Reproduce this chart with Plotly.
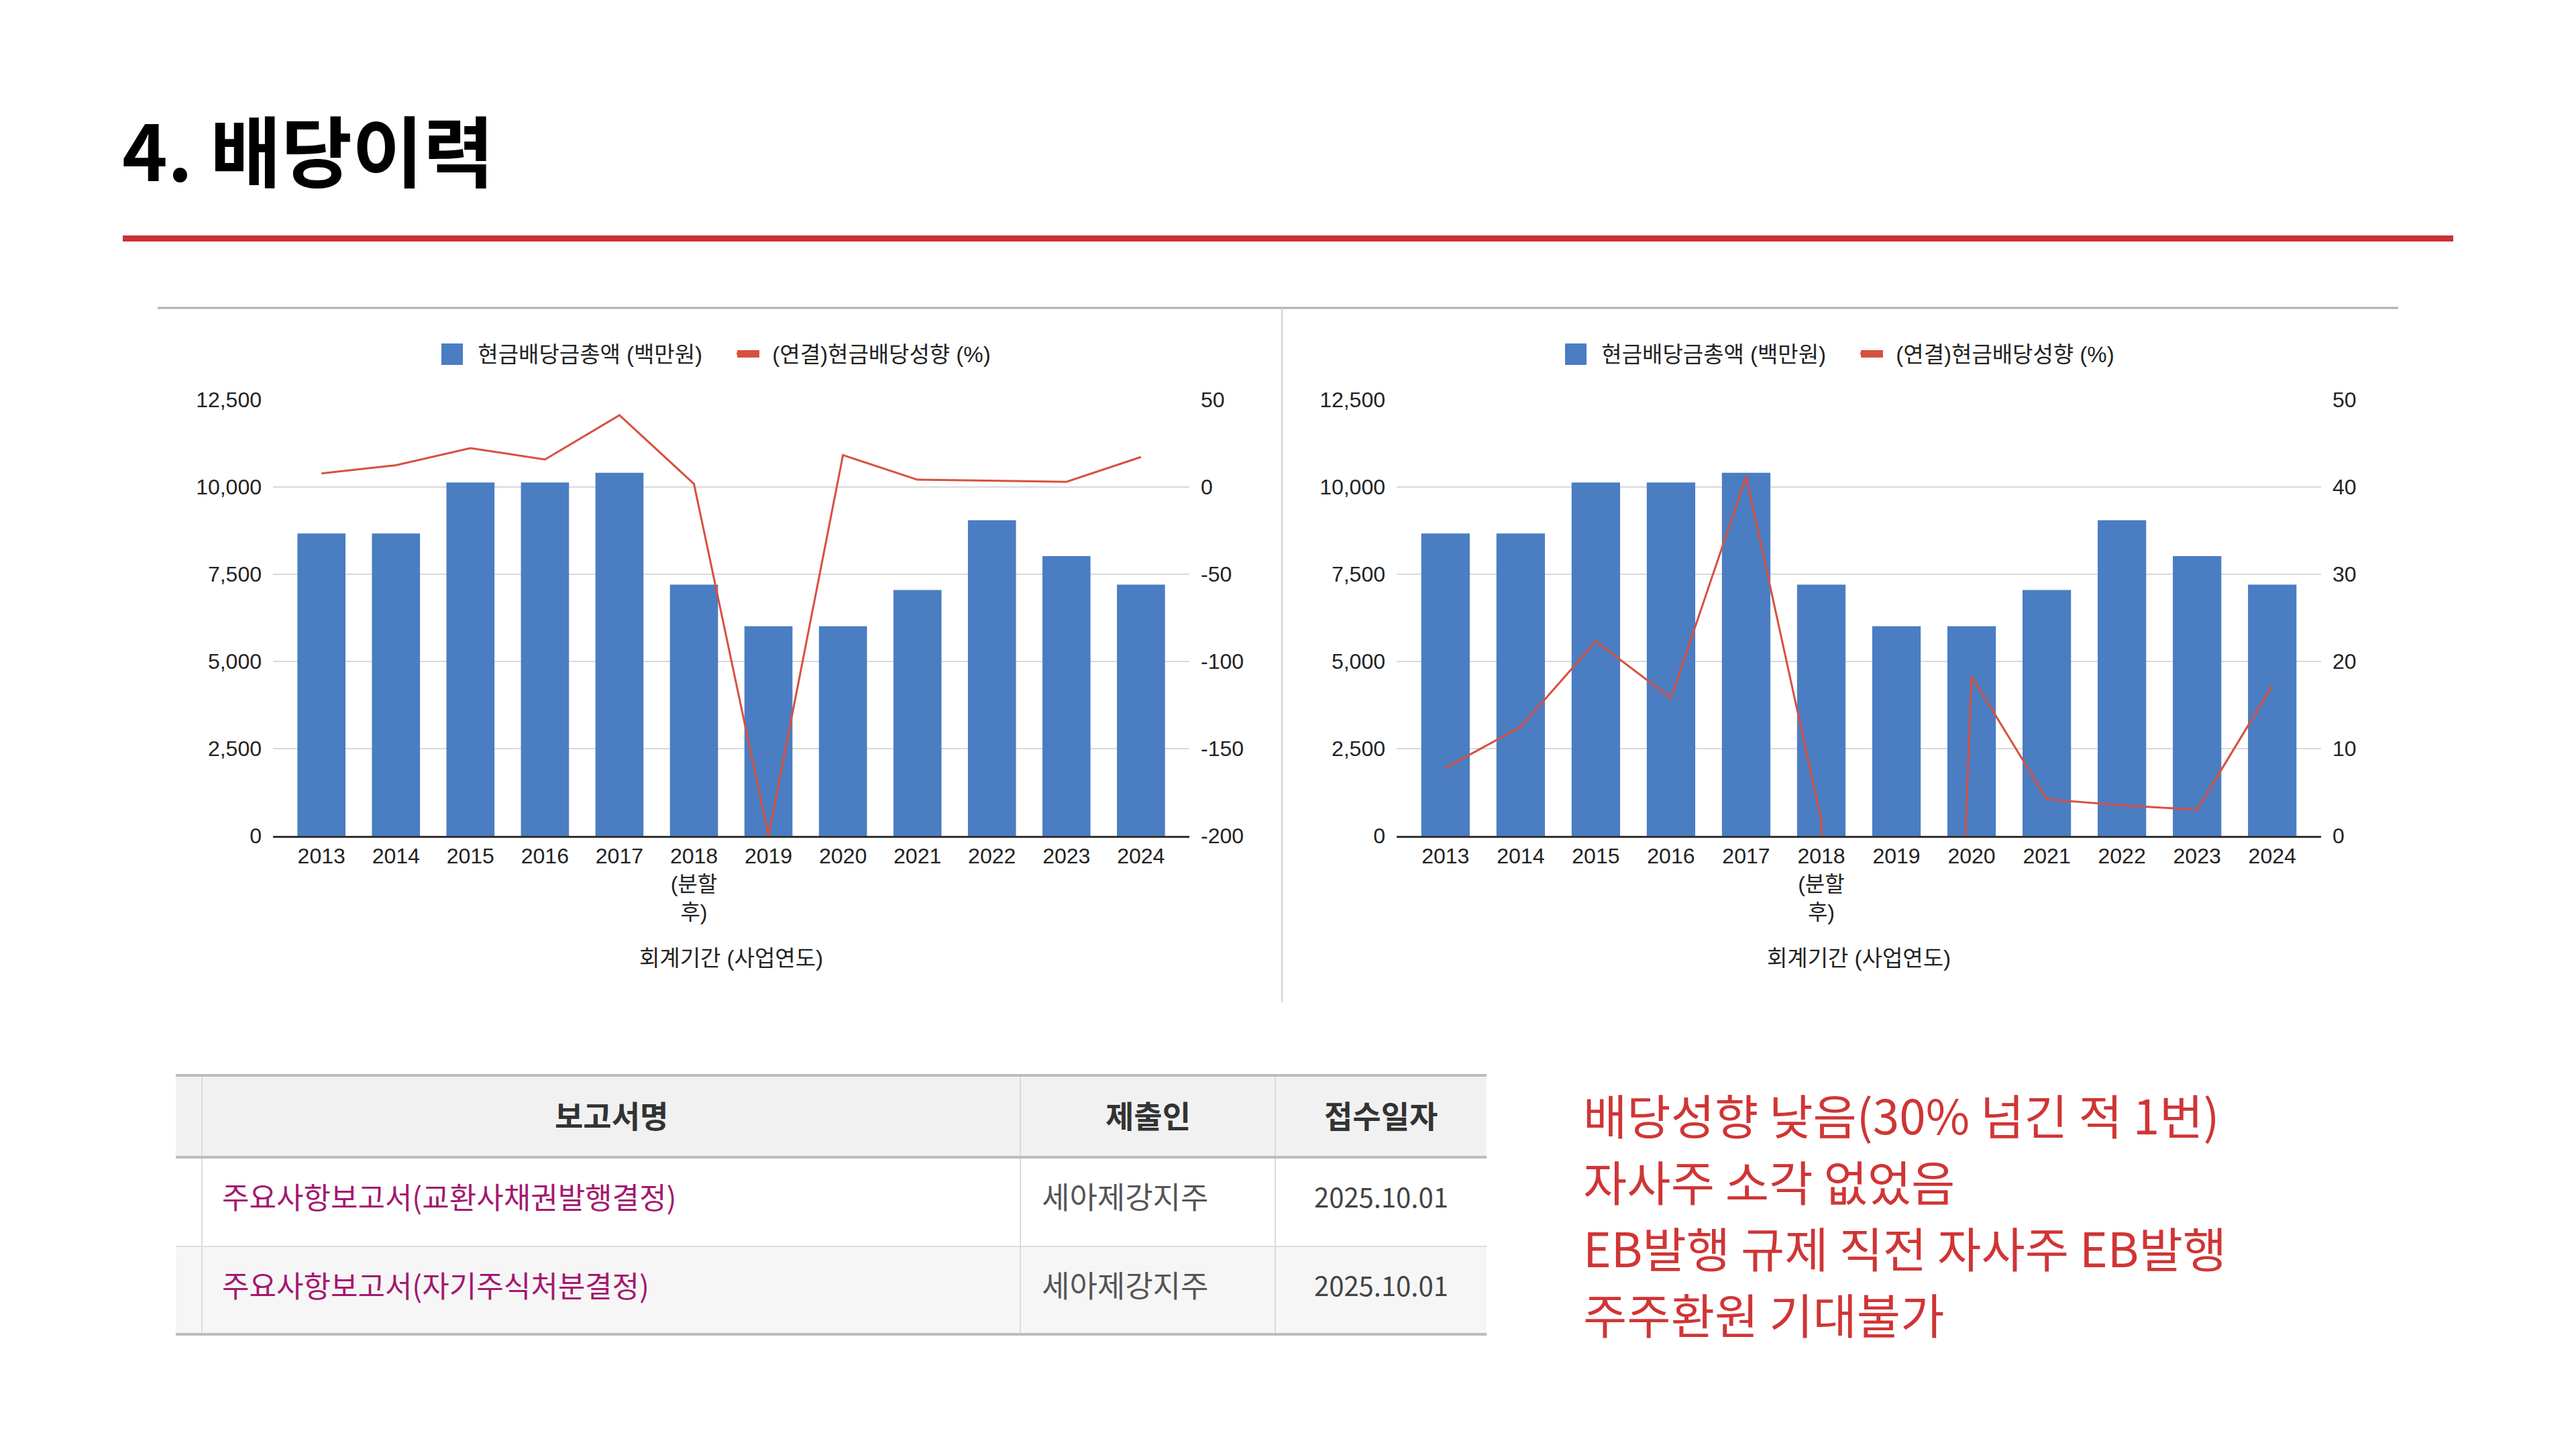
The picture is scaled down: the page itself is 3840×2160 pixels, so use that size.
import plotly.graph_objects as go

# ---------------- data ----------------
years = ["2013", "2014", "2015", "2016", "2017", "2018(분할후)", "2019", "2020", "2021", "2022", "2023", "2024"]
year_labels = ["2013", "2014", "2015", "2016", "2017", "2018<br>(분할<br>후)", "2019", "2020", "2021", "2022", "2023", "2024"]
dividend_total = [8670, 8670, 10130, 10130, 10410, 7200, 6010, 6010, 7050, 9050, 8020, 7200]   # 현금배당금총액 (백만원)
payout_ratio = [7.8, 12.5, 22.3, 15.8, 41.2, 1.8, -200, 18.3, 4.2, 3.5, 3.0, 17.2]            # (연결)현금배당성향 (%)

bar_name = "현금배당금총액 (백만원)"
line_name = "(연결)현금배당성향 (%)"
x_title = "회계기간 (사업연도)"

amount_ticks = [0, 2500, 5000, 7500, 10000, 12500]
ratio_ticks_left = [-200, -150, -100, -50, 0, 50]
ratio_ticks_right = [0, 10, 20, 30, 40, 50]

table_header = ["보고서명", "제출인", "접수일자"]
report_names = ["주요사항보고서(교환사채권발행결정)", "주요사항보고서(자기주식처분결정)"]
submitters = ["세아제강지주", "세아제강지주"]
receipt_dates = ["2025.10.01", "2025.10.01"]

page_title = "4. 배당이력"
notes = ["배당성향 낮음(30% 넘긴 적 1번)", "자사주 소각 없었음", "EB발행 규제 직전 자사주 EB발행", "주주환원 기대불가"]

# ---------------- style ----------------
W, H = 3840, 2160
BLUE = "#4a7dc2"
RED_LINE = "#d7513f"
CHART_FONT = "Arial, 'Liberation Sans', 'Noto Sans CJK KR', sans-serif"
KR_FONT = "'Noto Sans CJK KR', 'Noto Sans', sans-serif"
PAD = "\u00a0\u00a0"


def px(x):
    return x / W


def py(y):
    return 1 - y / H


fig = go.Figure()

bar_marker = dict(color=BLUE, line=dict(width=0, color=BLUE))
# left chart
fig.add_trace(go.Bar(x=years, y=dividend_total, name=PAD + bar_name, marker=bar_marker,
                     xaxis="x", yaxis="y", legend="legend"))
fig.add_trace(go.Scatter(x=years, y=payout_ratio, name=PAD + line_name, mode="lines",
                         line=dict(color=RED_LINE, width=3), xaxis="x", yaxis="y2", legend="legend"))
# right chart
fig.add_trace(go.Bar(x=years, y=dividend_total, name=PAD + bar_name, marker=bar_marker,
                     xaxis="x2", yaxis="y3", legend="legend2"))
fig.add_trace(go.Scatter(x=years, y=payout_ratio, name=PAD + line_name, mode="lines",
                         line=dict(color=RED_LINE, width=3), xaxis="x2", yaxis="y4", legend="legend2"))

tick_font = dict(family=CHART_FONT, size=32, color="#222222")
plot_y = [py(1246), py(596)]

common_x = dict(type="category", range=[-0.65, 11.65], tickvals=years, ticktext=year_labels,
                showline=True, linecolor="#333333", linewidth=3, ticks="", showgrid=False,
                tickfont=tick_font, fixedrange=True, automargin=False)
common_y = dict(domain=plot_y, range=[0, 12500], tickvals=amount_ticks,
                ticktext=[f"{v:,}" for v in amount_ticks], showgrid=True, gridcolor="#d9d9d9",
                gridwidth=2, zeroline=False, ticks="", tickfont=tick_font, ticklabelstandoff=16,
                automargin=False)
legend_common = dict(orientation="h", xanchor="left", y=py(527), yanchor="middle",
                     font=dict(family=CHART_FONT, size=33, color="#222222"),
                     bgcolor="rgba(0,0,0,0)", itemwidth=30, entrywidth=394, entrywidthmode="pixels")
LEGEND_X = [654, 654 + 1675]

fig.update_layout(
    width=W, height=H, autosize=False,
    margin=dict(l=0, r=0, t=0, b=0, pad=0, autoexpand=False),
    paper_bgcolor="white", plot_bgcolor="white",
    bargap=0.355,
    xaxis=dict(domain=[px(407), px(1773)], anchor="y", **common_x),
    yaxis=dict(anchor="x", **common_y),
    yaxis2=dict(overlaying="y", side="right", anchor="x", range=[-200, 50],
                tickvals=ratio_ticks_left, ticktext=[str(v) for v in ratio_ticks_left],
                showgrid=False, zeroline=False, ticks="", tickfont=tick_font, ticklabelstandoff=16,
                automargin=False),
    xaxis2=dict(domain=[px(2082), px(3460)], anchor="y3", **common_x),
    yaxis3=dict(anchor="x2", **common_y),
    yaxis4=dict(overlaying="y3", side="right", anchor="x2", range=[0, 50],
                tickvals=ratio_ticks_right, ticktext=[str(v) for v in ratio_ticks_right],
                showgrid=False, zeroline=False, ticks="", tickfont=tick_font, ticklabelstandoff=16,
                automargin=False),
    legend=dict(x=px(LEGEND_X[0]), **legend_common),
    legend2=dict(x=px(LEGEND_X[1]), **legend_common),
    showlegend=True,
)

# ---------------- table (drawn from the lists above) ----------------
col_edges = [262, 301, 1521, 1901, 2216]
row_edges = [1603, 1725, 1858, 1989]
row_fills = ["#f1f1f1", "#ffffff", "#f6f6f6"]

shapes = [
    # red rule under the title
    dict(type="rect", xref="paper", yref="paper", x0=px(183), x1=px(3657), y0=py(360), y1=py(351),
         fillcolor="#cb3234", line=dict(width=0)),
    # chart frame: top border and separator
    dict(type="line", xref="paper", yref="paper", x0=px(235), x1=px(3575), y0=py(459), y1=py(459),
         line=dict(color="#b0b0b0", width=3)),
    dict(type="line", xref="paper", yref="paper", x0=px(1911), x1=px(1911), y0=py(459), y1=py(1494),
         line=dict(color="#cfcfcf", width=2)),
]
# larger legend keys (Google-chart style) underneath the native legend symbols
for lx in LEGEND_X:
    shapes.append(dict(type="rect", xref="paper", yref="paper", x0=px(lx + 4), x1=px(lx + 36),
                       y0=py(544), y1=py(512), fillcolor=BLUE, line=dict(width=0)))
    shapes.append(dict(type="rect", xref="paper", yref="paper", x0=px(lx + 445), x1=px(lx + 478),
                       y0=py(533), y1=py(522), fillcolor=RED_LINE, line=dict(width=0)))
for r, fill in enumerate(row_fills):
    shapes.append(dict(type="rect", xref="paper", yref="paper", layer="below",
                       x0=px(col_edges[0]), x1=px(col_edges[-1]),
                       y0=py(row_edges[r + 1]), y1=py(row_edges[r]),
                       fillcolor=fill, line=dict(width=0)))
for xx in col_edges[1:-1]:
    shapes.append(dict(type="line", xref="paper", yref="paper", x0=px(xx), x1=px(xx),
                       y0=py(row_edges[0]), y1=py(row_edges[-1]),
                       line=dict(color="#dadada", width=2)))
for i, yy in enumerate(row_edges):
    thick = i in (0, 1, len(row_edges) - 1)
    shapes.append(dict(type="line", xref="paper", yref="paper", x0=px(col_edges[0]), x1=px(col_edges[-1]),
                       y0=py(yy), y1=py(yy),
                       line=dict(color="#bcbcbc" if thick else "#dedede", width=4 if thick else 2)))
fig.update_layout(shapes=shapes)

annotations = [
    dict(text="<b>%s</b>" % page_title, x=px(180), y=py(220), xref="paper", yref="paper",
         xanchor="left", yanchor="middle", showarrow=False,
         font=dict(family=KR_FONT, size=115, color="#000000")),
]
for cx in (1090, 2771):
    annotations.append(dict(text=x_title, x=px(cx), y=py(1428), xref="paper", yref="paper",
                            xanchor="center", yanchor="middle", showarrow=False,
                            font=dict(family=CHART_FONT, size=33, color="#222222")))
# table header
for c, head in enumerate(table_header):
    cx = (col_edges[c + 1] + col_edges[c + 2]) / 2
    annotations.append(dict(text="<b>%s</b>" % head, x=px(cx), y=py(1661), xref="paper", yref="paper",
                            xanchor="center", yanchor="middle", showarrow=False,
                            font=dict(family=KR_FONT, size=46, color="#333333")))
# table rows
for r in range(len(report_names)):
    cy = (row_edges[r + 1] + row_edges[r + 2]) / 2 - 9
    annotations.append(dict(text=report_names[r], x=px(col_edges[1] + 28), y=py(cy), xref="paper",
                            yref="paper", xanchor="left", yanchor="middle", showarrow=False,
                            font=dict(family=KR_FONT, size=44, color="#a3196f")))
    annotations.append(dict(text=submitters[r], x=px(col_edges[2] + 30), y=py(cy), xref="paper",
                            yref="paper", xanchor="left", yanchor="middle", showarrow=False,
                            font=dict(family=KR_FONT, size=45, color="#555555")))
    annotations.append(dict(text=receipt_dates[r], x=px((col_edges[3] + col_edges[4]) / 2), y=py(cy),
                            xref="paper", yref="paper", xanchor="center", yanchor="middle",
                            showarrow=False, font=dict(family=KR_FONT, size=40, color="#444444")))
# red notes
for i, line in enumerate(notes):
    annotations.append(dict(text=line, x=px(2358), y=py(1660 + i * 99), xref="paper", yref="paper",
                            xanchor="left", yanchor="middle", showarrow=False,
                            font=dict(family=KR_FONT, size=71, color="#d03535")))
fig.update_layout(annotations=annotations)

fig.write_html("out.html")
